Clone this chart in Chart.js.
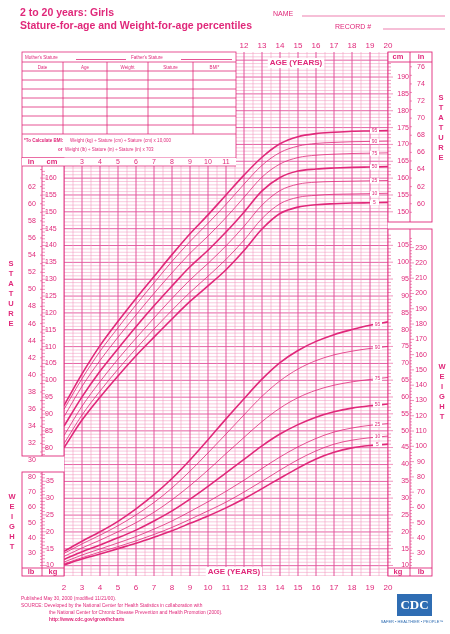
<!DOCTYPE html>
<html><head><meta charset="utf-8">
<script src="https://cdn.jsdelivr.net/npm/chart.js@4"></script>
<style>html,body{margin:0;padding:0;background:#fff}canvas{display:block}</style>
</head><body>
<div style="width:450px;height:634px"><canvas id="c"></canvas></div>
<script>
const ages = [2,3,4,5,6,7,8,9,10,11,12,13,14,15,16,17,18,19,20];
const percentiles = ['5','10','25','50','75','90','95'];
const stature5  = [80.0,88.2,95.0,101.3,107.3,112.8,118.2,123.4,128.0,132.8,138.5,144.9,149.5,151.4,152.1,152.4,152.6,152.7,152.8];
const stature10 = [81.2,89.7,96.8,103.3,109.4,115.2,120.8,126.1,130.9,135.9,141.6,148.0,152.4,154.3,154.9,155.2,155.3,155.4,155.5];
const stature25 = [83.6,92.3,99.6,106.3,112.5,118.5,124.3,129.8,134.7,139.9,145.7,152.0,156.3,158.2,158.8,159.0,159.1,159.2,159.3];
const stature50 = [86.4,95.1,102.7,109.4,115.9,122.1,128.0,133.7,138.6,144.0,149.9,156.2,160.2,162.1,162.7,163.0,163.2,163.3,163.4];
const stature75 = [89.2,98.2,105.9,112.8,119.4,125.8,131.9,137.7,142.8,148.3,154.3,160.3,164.2,166.1,166.8,167.1,167.3,167.4,167.5];
const stature90 = [91.4,100.5,108.6,115.6,122.4,128.9,135.3,141.2,146.6,152.2,158.2,163.8,167.6,169.5,170.3,170.6,170.8,170.9,171.0];
const stature95 = [92.5,101.9,110.3,117.5,124.3,130.8,137.3,143.5,149.1,155.0,160.9,166.2,170.2,172.3,173.2,173.6,173.9,174.0,174.1];
const weight5  = [10.2,11.9,13.4,15.0,16.6,18.4,20.3,22.5,24.7,27.1,29.8,32.8,35.9,38.9,41.6,43.6,44.9,45.6,46.0];
const weight10 = [10.5,12.3,14.0,15.6,17.3,19.2,21.3,23.7,26.2,28.8,31.8,35.0,38.3,41.4,44.0,46.0,47.2,47.9,48.4];
const weight25 = [11.0,13.1,14.9,16.7,18.6,20.8,23.2,26.0,28.9,32.0,35.3,38.8,42.2,45.2,47.7,49.6,50.8,51.6,52.1];
const weight50 = [11.8,14.1,16.1,18.2,20.5,23.2,26.2,29.7,33.5,37.5,41.5,45.5,49.0,51.8,54.0,55.6,56.7,57.4,57.9];
const weight75 = [12.7,15.2,17.5,20.0,22.7,25.8,29.5,33.7,38.3,43.2,48.0,52.7,56.7,59.8,62.0,63.5,64.5,65.2,65.8];
const weight90 = [13.6,16.4,19.0,21.8,25.0,28.7,33.0,38.0,43.4,49.0,54.7,60.2,64.8,68.3,70.8,72.5,73.6,74.4,75.0];
const weight95 = [14.2,17.2,20.0,23.1,26.8,31.0,35.8,41.3,47.3,53.5,59.5,65.3,70.2,73.8,76.5,78.5,80.0,81.3,82.3];
const topAgeTicks = [12,13,14,15,16,17,18,19,20];
const midAgeTicks = [3,4,5,6,7,8,9,10,11];
const bottomAgeTicks = [2,3,4,5,6,7,8,9,10,11,12,13,14,15,16,17,18,19,20];
const leftCmTicks = [80,85,90,95,100,105,110,115,120,125,130,135,140,145,150,155,160];
const leftInTicks = [30,32,34,36,38,40,42,44,46,48,50,52,54,56,58,60,62];
const rightCmTicks = [150,155,160,165,170,175,180,185,190];
const rightInTicks = [60,62,64,66,68,70,72,74,76];
const leftKgTicks = [10,15,20,25,30,35];
const leftLbTicks = [30,40,50,60,70,80];
const rightKgTicks = [10,15,20,25,30,35,40,45,50,55,60,65,70,75,80,85,90,95,100,105];
const rightLbTicks = [30,40,50,60,70,80,90,100,110,120,130,140,150,160,170,180,190,200,210,220,230];

const C = '#e0287a', G = '#f29ac0', GD = '#e2509a';
const statureSets = [stature5,stature10,stature25,stature50,stature75,stature90,stature95];
const weightSets = [weight5,weight10,weight25,weight50,weight75,weight90,weight95];
const datasets = [];
statureSets.forEach((a,i)=>datasets.push({data:ages.map((x,j)=>({x,y:a[j]})),yAxisID:'ys',borderColor:C,borderWidth:[0,3,6].includes(i)?1.6:0.8,pointRadius:0,tension:0.4,cubicInterpolationMode:'monotone',fill:false}));
weightSets.forEach((a,i)=>datasets.push({data:ages.map((x,j)=>({x,y:a[j]})),yAxisID:'yw',borderColor:C,borderWidth:[0,3,6].includes(i)?1.6:0.8,pointRadius:0,tension:0.4,cubicInterpolationMode:'monotone',fill:false}));

const TOP=52, BOT=576, SPAN=155.5, SMIN=80-(BOT-447.7)/3.37, TR=236;
const plug = {
 id:'growth',
 beforeDatasetsDraw(ch){
  const c=ch.ctx, xs=ch.scales.x, ys=ch.scales.ys, yw=ch.scales.yw;
  const X=v=>xs.getPixelForValue(v), S=v=>ys.getPixelForValue(v), W=v=>yw.getPixelForValue(v);
  c.save();
  c.beginPath(); c.rect(X(2),TOP,X(20)-X(2),BOT-TOP); c.clip();
  for(let v=Math.ceil(SMIN);v<=SMIN+SPAN;v++){
    c.strokeStyle = v%5===0?GD:G; c.lineWidth = v%5===0?0.9:0.55;
    c.beginPath(); c.moveTo(X(2),S(v)); c.lineTo(X(20),S(v)); c.stroke();
  }
  for(let a=2;a<=20;a+=0.5){
    c.strokeStyle = Number.isInteger(a)?GD:G; c.lineWidth=Number.isInteger(a)?1:0.6;
    c.beginPath(); c.moveTo(X(a),TOP); c.lineTo(X(a),BOT); c.stroke();
  }
  c.restore(); c.save();
  c.fillStyle='#fff'; c.fillRect(22,52,TR-22,106);
  c.strokeStyle=C; c.lineWidth=0.8; c.strokeRect(22,52,TR-22,106);
  c.fillStyle=C; c.font='4.5px Liberation Sans'; c.textBaseline='middle';
  c.fillText("Mother's Stature",25,57.5); c.fillText("Father's Stature",131,57.5);
  c.beginPath(); c.moveTo(76,59.5); c.lineTo(126,59.5); c.moveTo(181,59.5); c.lineTo(232,59.5); c.stroke();
  c.beginPath(); c.moveTo(22,62); c.lineTo(TR,62); c.stroke();
  const cols=[22,63,107,148,193,TR], heads=['Date','Age','Weight','Stature','BMI*'];
  c.textAlign='center';
  heads.forEach((h,i)=>c.fillText(h,(cols[i]+cols[i+1])/2,67.5));
  for(let y=71;y<=134;y+=9){c.beginPath();c.moveTo(22,y);c.lineTo(TR,y);c.stroke();}
  c.beginPath(); for(let i=1;i<5;i++){c.moveTo(cols[i],62);c.lineTo(cols[i],134);} c.stroke();
  c.textAlign='left'; c.font='bold 4.5px Liberation Sans';
  c.fillText('*To Calculate BMI:',24,141);
  c.font='4.5px Liberation Sans';
  c.fillText('Weight (kg) ÷ Stature (cm) ÷ Stature (cm) x 10,000',70,141);
  c.font='bold 4.5px Liberation Sans'; c.fillText('or',58,149.5);
  c.font='4.5px Liberation Sans'; c.fillText('Weight (lb) ÷ Stature (in) ÷ Stature (in) x 703',65,149.5);
  c.lineWidth=0.9;
  c.strokeRect(22,158,42,298); c.beginPath(); c.moveTo(42,158); c.lineTo(42,456); c.stroke();
  c.strokeRect(22,472,42,104); c.beginPath(); c.moveTo(42,472); c.lineTo(42,576); c.stroke();
  c.beginPath(); c.moveTo(22,568); c.lineTo(X(2),568); c.stroke();
  c.strokeRect(X(20),52,44,170); c.beginPath(); c.moveTo(410,52); c.lineTo(410,222); c.moveTo(X(20),62); c.lineTo(432,62); c.stroke();
  c.strokeRect(X(20),229,44,347); c.beginPath(); c.moveTo(410,229); c.lineTo(410,576); c.moveTo(X(20),568); c.lineTo(432,568); c.stroke();
  c.lineWidth=0.5;
  const tk=(x1,x2,y)=>{c.beginPath();c.moveTo(x1,y);c.lineTo(x2,y);c.stroke();};
  for(let v=78;v<=162;v++){ if(S(v)>167&&S(v)<455){tk(42,v%5?45:47,S(v));} }
  for(let v=150;v<=197;v++){ if(S(v)>63&&S(v)<221){tk(X(20),X(20)+(v%5?3:5),S(v));} }
  for(let i=29;i<=64;i++){const y=S(i*2.54); if(y>167&&y<455) tk(40,42,y); }
  for(let i=59;i<=77;i++){const y=S(i*2.54); if(y>63&&y<221) tk(410,412,y); }
  for(let v=7;v<=37;v++){ if(W(v)>473&&W(v)<567) tk(42,v%5?45:47,W(v)); }
  for(let v=7;v<=108;v++){ if(W(v)>230&&W(v)<567) tk(X(20),X(20)+(v%5?3:5),W(v)); }
  for(let l=22;l<=236;l+=2){const y=W(l*0.4536); if(y>230&&y<567) tk(410,l%10?412:414,y); if(y>473&&y<567) tk(40,42,y);}
  c.font='7px Liberation Sans'; c.textBaseline='middle';
  c.textAlign='left';
  leftCmTicks.forEach(v=>c.fillText(v,45,S(v)));
  leftKgTicks.forEach(v=>c.fillText(v,46,W(v)));
  c.textAlign='right';
  rightCmTicks.forEach(v=>c.fillText(v,409,S(v)));
  rightKgTicks.forEach(v=>c.fillText(v,409,W(v)));
  c.textAlign='center';
  leftInTicks.forEach(v=>{const y=S(v*2.54); c.fillStyle='#fff';c.fillRect(24,y-3.5,14,7);c.fillStyle=C;c.fillText(v,32,y);});
  leftLbTicks.forEach(v=>{const y=W(v*0.4536); c.fillStyle='#fff';c.fillRect(24,y-3.5,14,7);c.fillStyle=C;c.fillText(v,32,y);});
  rightInTicks.forEach(v=>c.fillText(v,421,S(v*2.54)));
  rightLbTicks.forEach(v=>c.fillText(v,421,W(v*0.4536)));
  c.restore();
 },
 afterDatasetsDraw(ch){
  const c=ch.ctx, xs=ch.scales.x, ys=ch.scales.ys, yw=ch.scales.yw;
  const X=v=>xs.getPixelForValue(v);
  c.save(); c.fillStyle=C; c.textBaseline='middle'; c.textAlign='center';
  c.font='5px Liberation Sans';
  statureSets.forEach((a,i)=>{const y=ys.getPixelForValue(a[17]); c.fillStyle='#fff';c.fillRect(370,y-2.5,9,5);c.fillStyle=C;c.fillText(percentiles[i],374.5,y);});
  weightSets.forEach((a,i)=>{const y=yw.getPixelForValue(a[17]+0.3); c.fillStyle='#fff';c.fillRect(373,y-2.5,9,5);c.fillStyle=C;c.fillText(percentiles[i],377.5,y);});
  c.font='8px Liberation Sans';
  topAgeTicks.forEach(v=>c.fillText(v,X(v),46));
  bottomAgeTicks.forEach(v=>c.fillText(v,X(v),588));
  c.font='7px Liberation Sans';
  c.fillStyle='#fff'; c.fillRect(22,158,TR-22,8); c.fillStyle=C;
  c.strokeStyle=C; c.lineWidth=0.8; c.beginPath(); c.moveTo(22,166); c.lineTo(TR,166); c.stroke();
  midAgeTicks.forEach(v=>{c.fillText(v,X(v),162);});
  c.font='bold 7.5px Liberation Sans';
  c.fillText('in',31,162); c.fillText('cm',52,162);
  c.fillText('lb',31,572); c.fillText('kg',53,572);
  c.fillText('cm',398,57); c.fillText('in',421,57);
  c.fillText('kg',398,572); c.fillText('lb',421,572);
  c.font='bold 8px Liberation Sans';
  const box=(t,x,y)=>{const w=c.measureText(t).width+4;c.fillStyle='#fff';c.fillRect(x-w/2,y-5,w,10);c.fillStyle=C;c.fillText(t,x,y);};
  box('AGE (YEARS)',296,63); box('AGE (YEARS)',234,572);
  c.font='bold 7.5px Liberation Sans';
  const vw=(t,x,y0)=>[...t].forEach((ch2,i)=>c.fillText(ch2,x,y0+i*10));
  vw('STATURE',11,264); vw('WEIGHT',12,497); vw('STATURE',441,98); vw('WEIGHT',442,367);
  c.textAlign='left'; c.font='bold 10.5px Liberation Sans';
  c.fillText('2 to 20 years: Girls',20,13);
  c.fillText('Stature-for-age and Weight-for-age percentiles',20,26);
  c.font='7px Liberation Sans';
  c.fillText('NAME',273,14); c.fillText('RECORD #',335,27);
  c.strokeStyle=C; c.lineWidth=0.6; c.beginPath(); c.moveTo(302,16); c.lineTo(445,16); c.moveTo(383,29); c.lineTo(445,29); c.stroke();
  c.font='4.8px Liberation Sans';
  c.fillText('Published May 30, 2000 (modified 11/21/00).',21,599);
  c.fillText('SOURCE: Developed by the National Center for Health Statistics in collaboration with',21,606);
  c.fillText('the National Center for Chronic Disease Prevention and Health Promotion (2000).',49,613);
  c.font='bold 4.8px Liberation Sans';
  c.fillText('http://www.cdc.gov/growthcharts',49,620);
  c.fillStyle='#2f6db3'; c.fillRect(397,594,35,22);
  c.fillStyle='#fff'; c.font='bold 13px Liberation Serif'; c.textAlign='center'; c.fillText('CDC',414.5,605.5);
  c.fillStyle='#2f6db3'; c.font='4px Liberation Sans'; c.fillText('SAFER • HEALTHIER • PEOPLE™',412,622);
  c.restore();
 }
};
new Chart(document.getElementById('c'),{
 type:'line', data:{datasets},
 plugins:[plug],
 options:{responsive:true,maintainAspectRatio:false,animation:false,
  layout:{padding:{left:64,right:62,top:TOP,bottom:634-BOT}},
  plugins:{legend:{display:false},tooltip:{enabled:false}},
  scales:{
   x:{type:'linear',min:2,max:20,display:false},
   ys:{type:'linear',min:SMIN,max:SMIN+SPAN,display:false},
   yw:{type:'linear',min:SMIN-35.05,max:SMIN+SPAN-35.05,display:false}
  }}
});
</script></body></html>
